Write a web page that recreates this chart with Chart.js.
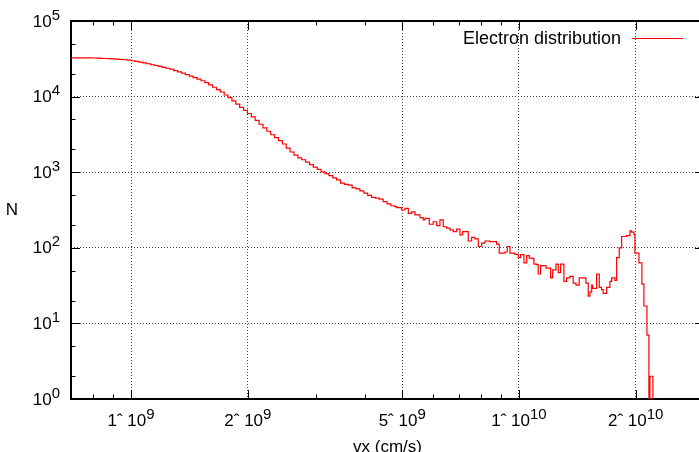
<!DOCTYPE html>
<html>
<head>
<meta charset="utf-8">
<title>Electron distribution</title>
<script src="https://cdn.jsdelivr.net/npm/chart.js@4.4.1/dist/chart.umd.min.js"></script>
<style>
  html, body { margin: 0; padding: 0; background: #fff; overflow: hidden; }
  #wrap { width: 712px; height: 462px; }
  canvas { display: block; }
</style>
</head>
<body>
<div id="wrap"><canvas id="distChart" width="712" height="462"></canvas></div>
<script>
// --- data: bin start (cm/s) and count in that bin ---
// (bins that sit on the axis are given as 1, the bottom of the log axis)
const vx = [
  6.918e8, 7.079e8, 7.244e8, 7.413e8, 7.586e8, 7.762e8, 7.943e8, 8.128e8, 8.318e8, 8.511e8,
  8.710e8, 8.913e8, 9.120e8, 9.333e8, 9.550e8, 9.772e8,
  1.000e9, 1.023e9, 1.047e9, 1.072e9, 1.096e9, 1.122e9, 1.148e9, 1.175e9, 1.202e9, 1.230e9,
  1.259e9, 1.288e9, 1.318e9, 1.349e9, 1.380e9, 1.413e9, 1.445e9, 1.479e9, 1.514e9, 1.549e9,
  1.585e9, 1.622e9, 1.660e9, 1.698e9, 1.738e9, 1.778e9, 1.820e9, 1.862e9, 1.905e9, 1.950e9,
  1.995e9, 2.042e9, 2.089e9, 2.138e9, 2.188e9, 2.239e9, 2.291e9, 2.344e9, 2.399e9, 2.455e9,
  2.512e9, 2.570e9, 2.630e9, 2.692e9, 2.754e9, 2.818e9, 2.884e9, 2.951e9, 3.020e9, 3.090e9,
  3.162e9, 3.236e9, 3.311e9, 3.388e9, 3.467e9, 3.548e9, 3.631e9, 3.715e9, 3.802e9, 3.890e9,
  3.981e9, 4.074e9, 4.169e9, 4.266e9, 4.365e9, 4.467e9, 4.571e9, 4.677e9, 4.786e9,
  4.839e9, 4.986e9, 5.084e9, 5.185e9, 5.289e9, 5.395e9, 5.556e9, 5.667e9, 5.724e9, 5.872e9,
  6.013e9, 6.137e9, 6.257e9, 6.381e9, 6.512e9, 6.641e9, 6.772e9, 6.909e9, 7.045e9, 7.159e9,
  7.401e9, 7.552e9, 7.702e9, 7.854e9, 8.015e9, 8.173e9, 8.420e9, 8.760e9, 8.896e9, 9.202e9,
  9.328e9, 9.480e9, 9.766e9, 9.959e9,
  1.010e10, 1.030e10, 1.047e10, 1.063e10, 1.085e10, 1.093e10, 1.111e10, 1.121e10, 1.137e10, 1.174e10,
  1.207e10, 1.222e10, 1.246e10, 1.263e10, 1.281e10, 1.306e10, 1.327e10, 1.353e10, 1.380e10, 1.403e10,
  1.430e10, 1.488e10, 1.509e10, 1.524e10, 1.540e10, 1.549e10, 1.586e10, 1.611e10, 1.633e10, 1.649e10,
  1.683e10, 1.716e10, 1.734e10, 1.768e10, 1.786e10, 1.814e10, 1.840e10, 1.895e10, 1.933e10, 1.952e10,
  1.979e10, 1.991e10, 2.039e10, 2.075e10, 2.100e10, 2.138e10, 2.163e10, 2.176e10, 2.215e10
];
const counts = [
  32400, 32500, 32600, 32600, 32600, 32500, 32400, 32300, 32100, 31900,
  31700, 31500, 31300, 31000, 30700, 30400,
  29800, 29200, 28500, 27900, 27200, 26400, 25800, 25100, 24400, 23700,
  23100, 22100, 21200, 20400, 19500, 18700, 17800, 17000, 16200, 15300,
  14300, 13300, 12400, 11500, 10500, 9700, 8800, 7960, 7220, 6590,
  5980, 5400, 4840, 4310, 3860, 3480, 3130, 2860, 2620, 2360,
  2080, 1850, 1680, 1550, 1460, 1360, 1260, 1170, 1090, 1010,
  955, 900, 840, 790, 715, 690, 675, 622, 602, 565,
  528, 493, 465, 453, 440, 407, 380, 360, 350,
  339, 316, 333, 286, 298, 272, 251, 234, 245, 205,
  221, 196, 234, 190, 182, 173, 164, 177, 148, 164,
  123, 137, 131, 104, 115, 123, 121, 112, 85, 88,
  104, 85, 82, 74,
  81, 63, 79, 73, 72, 61, 60, 45, 58, 54,
  40, 51, 61, 47, 61, 36, 40, 42, 34, 32,
  40, 34, 23, 26, 32, 29, 45, 30, 28, 25,
  30, 36, 40, 37, 74, 100, 141, 145, 167, 161,
  150, 85, 63, 33, 17, 7, 1, 2, 1
];

const seriesLabel = 'Electron distribution';
const xMajor = [1e9, 2e9, 5e9, 1e10, 2e10];
const xMinor = [8e8, 9e8, 3e9, 4e9, 6e9, 7e9, 8e9, 9e9];
const xTickMantissa = ['1', '2', '5', '1', '2'];
const xTickExponent = ['9', '9', '9', '10', '10'];
const yMajor = [1, 10, 100, 1e3, 1e4, 1e5];
const yMinor = [2, 5, 20, 50, 200, 500, 2e3, 5e3, 2e4, 5e4];
const yTickExponent = ['0', '1', '2', '3', '4', '5'];

const FONT = '"Liberation Sans", Arial, sans-serif';
const MAIN_PX = 17;
const SUP_PX = 15;

// text with a raised exponent, like gnuplot's enhanced text
function drawPow(ctx, base, exp, x, y, align) {
  ctx.font = MAIN_PX + 'px ' + FONT;
  const wb = ctx.measureText(base).width;
  ctx.font = SUP_PX + 'px ' + FONT;
  const we = ctx.measureText(exp).width;
  let x0 = x;
  if (align === 'center') x0 = x - (wb + we) / 2;
  if (align === 'right') x0 = x - (wb + we);
  ctx.textAlign = 'left';
  ctx.textBaseline = 'alphabetic';
  ctx.font = MAIN_PX + 'px ' + FONT;
  ctx.fillText(base, x0, y);
  ctx.font = SUP_PX + 'px ' + FONT;
  ctx.fillText(exp, x0 + wb, y - 7);
}

const gnuplotFrame = {
  id: 'gnuplotFrame',
  beforeDatasetsDraw(chart) {
    const { ctx, chartArea: a, scales: { x, y } } = chart;
    ctx.save();
    ctx.strokeStyle = '#000';
    ctx.lineWidth = 1;
    ctx.beginPath();
    const xTick = (v, len) => {
      const px = Math.round(x.getPixelForValue(v)) + 0.5;
      ctx.moveTo(px, a.bottom); ctx.lineTo(px, a.bottom - len);
      ctx.moveTo(px, a.top); ctx.lineTo(px, a.top + len);
    };
    const yTick = (v, len) => {
      const py = Math.round(y.getPixelForValue(v)) + 0.5;
      ctx.moveTo(a.left, py); ctx.lineTo(a.left + len, py);
      ctx.moveTo(a.right, py); ctx.lineTo(a.right - len, py);
    };
    xMajor.forEach(v => xTick(v, 9));
    xMinor.forEach(v => xTick(v, 4.5));
    yMajor.forEach(v => yTick(v, 9));
    yMinor.forEach(v => yTick(v, 4.5));
    ctx.stroke();
    ctx.lineWidth = 2;
    ctx.strokeRect(a.left, a.top, a.right - a.left, a.bottom - a.top);
    ctx.restore();
  },
  afterDraw(chart) {
    const { ctx, chartArea: a, scales: { x, y } } = chart;
    ctx.save();
    ctx.fillStyle = '#000';

    xMajor.forEach((v, i) => {
      drawPow(ctx, xTickMantissa[i] + '\u02C6 10', xTickExponent[i], x.getPixelForValue(v), 426, 'center');
    });
    yMajor.forEach((v, i) => {
      drawPow(ctx, '10', yTickExponent[i], a.left - 11, y.getPixelForValue(v) + 5.5, 'right');
    });

    ctx.font = MAIN_PX + 'px ' + FONT;
    ctx.textAlign = 'center';
    ctx.textBaseline = 'alphabetic';
    ctx.fillText('vx (cm/s)', (a.left + a.right) / 2, 452);
    ctx.textBaseline = 'middle';
    ctx.fillText('N', 12, (a.top + a.bottom) / 2);

    // key, top right inside the frame
    ctx.font = '18px ' + FONT;
    ctx.textAlign = 'right';
    ctx.textBaseline = 'alphabetic';
    ctx.fillText(seriesLabel, 621, 44);
    ctx.strokeStyle = '#ff0000';
    ctx.lineWidth = 1.2;
    ctx.beginPath();
    ctx.moveTo(632, 38.5);
    ctx.lineTo(683, 38.5);
    ctx.stroke();
    ctx.restore();
  }
};

const chart = new Chart(document.getElementById('distChart'), {
  type: 'line',
  data: {
    datasets: [{
      label: seriesLabel,
      data: vx.map((v, i) => ({ x: v, y: counts[i] })),
      borderColor: '#ff0000',
      borderWidth: 1.2,
      pointRadius: 0,
      stepped: true,
      fill: false
    }]
  },
  options: {
    responsive: false,
    animation: false,
    devicePixelRatio: 1,
    layout: { padding: { left: 71, top: 21, right: 8, bottom: 63 } },
    plugins: { legend: { display: false }, tooltip: { enabled: false } },
    scales: {
      x: {
        type: 'logarithmic',
        min: 7e8,
        max: 3e10,
        afterBuildTicks: axis => { axis.ticks = xMajor.map(v => ({ value: v })); },
        ticks: { display: false },
        grid: { color: '#444', lineWidth: 1, drawTicks: false },
        border: { display: false, dash: [1, 2] }
      },
      y: {
        type: 'logarithmic',
        min: 1,
        max: 1e5,
        afterBuildTicks: axis => { axis.ticks = yMajor.map(v => ({ value: v })); },
        ticks: { display: false },
        grid: { color: '#444', lineWidth: 1, drawTicks: false },
        border: { display: false, dash: [1, 2] }
      }
    }
  },
  plugins: [gnuplotFrame]
});
</script>
</body>
</html>
